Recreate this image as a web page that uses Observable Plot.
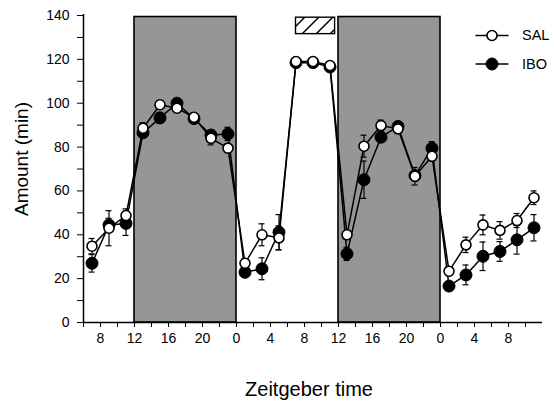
<!DOCTYPE html>
<html>
<head>
<meta charset="utf-8">
<script src="https://cdn.jsdelivr.net/npm/d3@7"></script>
<script src="https://cdn.jsdelivr.net/npm/@observablehq/plot@0.6"></script>
<style>
  html, body { margin: 0; padding: 0; background: white; }
</style>
</head>
<body>
<div id="chart"></div>
<script>
// Sampling times (cumulative hours; labels show Zeitgeber time modulo 24)
const hours = [7, 9, 11, 13, 15, 17, 19, 21, 23, 25, 27, 29, 31, 33, 35, 37, 39, 41, 43, 45, 47, 49, 51, 53, 55, 57, 59];

// Mean amount (min) per 2-h bin and SEM
const salMean = [34.8, 43.0, 48.8, 88.6, 99.3, 97.7, 93.6, 84.0, 79.5, 27.0, 40.0, 38.6, 119.0, 119.0, 117.2, 40.0, 80.4, 89.8, 88.3, 66.7, 75.8, 23.4, 35.4, 44.5, 42.0, 46.5, 56.9];
const salSem  = [3.5, 8.0, 3.0, 2.5, 1.5, 1.5, 2.0, 3.0, 2.0, 2.0, 5.0, 5.5, 1.0, 1.0, 1.0, 2.0, 5.0, 2.5, 2.0, 4.0, 2.0, 2.0, 3.5, 4.5, 4.0, 3.2, 3.1];
const iboMean = [27.0, 44.5, 45.2, 86.5, 93.3, 100.0, 93.0, 85.5, 86.0, 22.9, 24.5, 41.2, 118.5, 118.5, 116.5, 31.3, 65.1, 84.5, 89.4, 67.0, 79.5, 16.6, 21.7, 30.2, 32.4, 37.7, 43.2];
const iboSem  = [4.0, 3.0, 5.5, 2.0, 2.5, 2.0, 2.0, 2.0, 3.0, 2.0, 5.0, 8.0, 1.0, 1.0, 1.0, 3.0, 8.5, 2.0, 2.0, 2.0, 3.0, 2.0, 4.5, 6.5, 4.5, 6.5, 6.0];

// Dark phases (shaded) and the sleep-deprivation window (hatched bar)
const darkStart = [12, 36];
const darkEnd = [24, 48];
const deprivationStart = [31];
const deprivationEnd = [35.6];

// Axis ticks
const xTicks = d3.range(6, 60, 2);
const xLabelled = [8, 12, 16, 20, 24, 28, 32, 36, 40, 44, 48, 52, 56];
const yTicks = d3.range(0, 141, 10);
const yLabelled = [0, 20, 40, 60, 80, 100, 120, 140];

const seriesNames = ["SAL", "IBO"];

const sal = hours.map((t, i) => ({t, mean: salMean[i], sem: salSem[i]}));
const ibo = hours.map((t, i) => ({t, mean: iboMean[i], sem: iboSem[i]}));
const dark = darkStart.map((s, i) => ({start: s, end: darkEnd[i]}));
const deprivation = deprivationStart.map((s, i) => ({start: s, end: deprivationEnd[i]}));

// A short horizontal stroke, used for the legend line samples
const dash = {draw(context) { context.moveTo(-16.5, 0); context.lineTo(16.5, 0); }};

function errorMarks(data) {
  return [
    Plot.ruleX(data, {x: "t", y1: d => d.mean - d.sem, y2: d => d.mean + d.sem, stroke: "black", strokeWidth: 1.2}),
    Plot.ruleY(data, {y: d => d.mean + d.sem, x1: d => d.t - 0.35, x2: d => d.t + 0.35, stroke: "black", strokeWidth: 1.2}),
    Plot.ruleY(data, {y: d => d.mean - d.sem, x1: d => d.t - 0.35, x2: d => d.t + 0.35, stroke: "black", strokeWidth: 1.2})
  ];
}

function legendEntry(name, dy, dotStyle) {
  return [
    Plot.dot([name], {frameAnchor: "top-right", dx: -50.5, dy, symbol: dash, r: 5, stroke: "black", strokeWidth: 1.5}),
    Plot.dot([name], {frameAnchor: "top-right", dx: -50.5, dy, ...dotStyle}),
    Plot.text([name], {text: d => d, frameAnchor: "top-right", dx: -20.5, dy, textAnchor: "start", lineAnchor: "middle", fontSize: 14.5})
  ];
}

const chart = Plot.plot({
  width: 554,
  height: 408,
  marginLeft: 83,
  marginRight: 12,
  marginTop: 15,
  marginBottom: 86,
  style: {fontFamily: "'Liberation Sans', Arial, sans-serif", fontSize: "14px", color: "black", background: "white"},
  x: {domain: [6, 60], label: null},
  y: {domain: [0, 140], label: null},
  marks: [
    Plot.rect(dark, {x1: "start", x2: "end", y1: 0, y2: 139.3, fill: "#969696", stroke: "black", strokeWidth: 1.6}),
    Plot.rect(deprivation, {x1: "start", x2: "end", y1: 131.5, y2: 139, fill: "url(#hatch)", stroke: "black", strokeWidth: 1.4}),
    Plot.axisX({ticks: xTicks, tickSize: 5, tickPadding: 6, tickFormat: t => xLabelled.includes(t) ? String(t % 24) : ""}),
    Plot.axisY({ticks: yTicks, tickSize: 6, tickPadding: 8, tickFormat: v => yLabelled.includes(v) ? String(v) : ""}),
    Plot.ruleX([6], {y1: 0, y2: 140.5, stroke: "black", strokeWidth: 1.5}),
    Plot.ruleY([0], {x1: 6, x2: 60, stroke: "black", strokeWidth: 1.5}),
    // IBO series
    ...errorMarks(ibo),
    Plot.line(ibo, {x: "t", y: "mean", stroke: "black", strokeWidth: 1.5}),
    Plot.dot(ibo, {x: "t", y: "mean", r: 6, fill: "black", stroke: "black", strokeWidth: 1}),
    // SAL series
    ...errorMarks(sal),
    Plot.line(sal, {x: "t", y: "mean", stroke: "black", strokeWidth: 1.5}),
    Plot.dot(sal, {x: "t", y: "mean", r: 5, fill: "white", stroke: "black", strokeWidth: 1.6}),
    // Legend
    ...legendEntry(seriesNames[0], 20, {r: 5, fill: "white", stroke: "black", strokeWidth: 1.6}),
    ...legendEntry(seriesNames[1], 48.5, {r: 6, fill: "black", stroke: "black", strokeWidth: 1}),
    // Axis titles
    Plot.text(["Zeitgeber time"], {frameAnchor: "bottom", dy: 67, dx: -4, textAnchor: "middle", lineAnchor: "middle", fontSize: 20}),
    Plot.text(["Amount (min)"], {frameAnchor: "left", dx: -61.5, dy: -10, rotate: -90, textAnchor: "middle", lineAnchor: "middle", fontSize: 19})
  ]
});

// Diagonal hatching used by the sleep-deprivation bar
const defs = d3.select(chart).insert("defs", ":first-child");
const pattern = defs.append("pattern")
  .attr("id", "hatch")
  .attr("patternUnits", "userSpaceOnUse")
  .attr("width", 14)
  .attr("height", 14);
pattern.append("rect").attr("width", 14).attr("height", 14).attr("fill", "white");
pattern.append("path")
  .attr("d", "M0,14 L14,0 M-2,2 L2,-2 M12,16 L16,12")
  .attr("stroke", "black")
  .attr("stroke-width", 1.5);

document.getElementById("chart").appendChild(chart);
</script>
</body>
</html>
